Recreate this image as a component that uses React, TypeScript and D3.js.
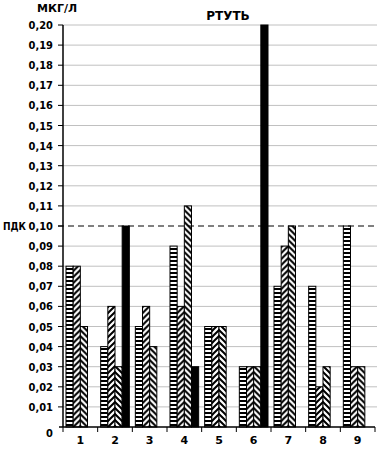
import React from "react";
import * as d3 from "d3";

const categories = ["1", "2", "3", "4", "5", "6", "7", "8", "9"];
const seriesStripes = [0.08, 0.04, 0.05, 0.09, 0.05, 0.03, 0.07, 0.07, 0.10];
const seriesFwd = [0.08, 0.06, 0.06, 0.06, 0.05, 0.03, 0.09, 0.02, 0.03];
const seriesBack = [0.05, 0.03, 0.04, 0.11, 0.05, 0.03, 0.10, 0.03, 0.03];
const seriesSolid = [0, 0.10, 0, 0.03, 0, 0.20, 0, 0, 0];
const yTicks = [0.01, 0.02, 0.03, 0.04, 0.05, 0.06, 0.07, 0.08, 0.09, 0.10, 0.11, 0.12, 0.13, 0.14, 0.15, 0.16, 0.17, 0.18, 0.19, 0.20];
const pdk = 0.10;

const W = 381, H = 452;
const left = 63, right = 375, top = 25, bottom = 427;
const font = "'DejaVu Sans Condensed', 'DejaVu Sans', sans-serif";
const fontWide = "'DejaVu Sans', sans-serif";

export default function App() {
  const x = d3.scaleBand<string>().domain(categories).range([left, right]).paddingInner(0).paddingOuter(0);
  const y = d3.scaleLinear().domain([0, 0.2]).range([bottom, top]);
  const bw = x.bandwidth();
  const pad = 3;
  const barW = (bw - 2 * pad) / 4;
  const series = [seriesStripes, seriesFwd, seriesBack, seriesSolid];
  const fmt = (v: number) => v.toFixed(2).replace(".", ",");
  const tp = { fontFamily: font, fontWeight: "bold" as const, fontSize: 11, fontStretch: "condensed" };
  const tw = { fontFamily: fontWide, fontWeight: "bold" as const, fontSize: 11 };

  return (
    <svg width={W} height={H} style={{ position: "absolute", left: 0, top: 0, background: "#fff" }}>
      <defs>
        <pattern id="stripes" patternUnits="userSpaceOnUse" width={4} height={4}>
          <rect width={4} height={4} fill="#fff" />
          <rect y={0} width={4} height={2} fill="#000" />
        </pattern>
        {categories.map((c, i) => {
          const bx = (x(c) as number) + pad + 2 * barW;
          return (
            <React.Fragment key={c}>
              <pattern id={`fwd${i}`} patternUnits="userSpaceOnUse" x={bx} y={0} width={6} height={6}>
                <rect width={6} height={6} fill="#fff" />
                <path d="M-1,1 L1,-1 M0,6 L6,0 M5,7 L7,5" stroke="#000" strokeWidth={2} />
              </pattern>
              <pattern id={`back${i}`} patternUnits="userSpaceOnUse" x={bx} y={0} width={6} height={6}>
                <rect width={6} height={6} fill="#fff" />
                <path d="M-1,5 L1,7 M0,0 L6,6 M5,-1 L7,1" stroke="#000" strokeWidth={2} />
              </pattern>
            </React.Fragment>
          );
        })}
      </defs>

      {yTicks.map((t) => (
        <line key={t} x1={left} x2={right + 2} y1={y(t)} y2={y(t)} stroke={t === pdk ? "none" : "#c0c0c0"} strokeWidth={1} />
      ))}

      {categories.map((c, i) =>
        series.map((s, si) => {
          const v = s[i];
          if (!v) return null;
          const bx = (x(c) as number) + pad + si * barW;
          const fill = si === 0 ? "url(#stripes)" : si === 1 ? `url(#fwd${i})` : si === 2 ? `url(#back${i})` : "#000";
          return (
            <rect key={`${c}-${si}`} x={bx} y={y(v)} width={barW} height={bottom - y(v)} fill={fill} stroke="#000" strokeWidth={1} />
          );
        })
      )}

      <line x1={left - 5} x2={right + 2} y1={y(pdk)} y2={y(pdk)} stroke="#000" strokeWidth={1} strokeDasharray="6,4" />

      <line x1={left} x2={left} y1={top} y2={bottom} stroke="#000" strokeWidth={1.5} />
      <line x1={left - 4} x2={right} y1={bottom} y2={bottom} stroke="#000" strokeWidth={1.5} />
      {yTicks.map((t) => (
        <line key={`t${t}`} x1={left - 5} x2={left} y1={y(t)} y2={y(t)} stroke="#000" />
      ))}
      {categories.concat(["end"]).map((c, i) => {
        const tx = left + i * bw;
        return <line key={`xt${i}`} x1={tx} x2={tx} y1={bottom} y2={bottom + 5} stroke="#000" />;
      })}

      {yTicks.map((t) => (
        <text key={`l${t}`} x={53} y={y(t) + 1} textAnchor="end" dominantBaseline="middle" {...tp}>
          {fmt(t)}
        </text>
      ))}
      <text x={53} y={bottom + 7} textAnchor="end" dominantBaseline="middle" {...tp}>0</text>
      <text x={3} y={y(pdk) + 1} dominantBaseline="middle" textLength={23} lengthAdjust="spacingAndGlyphs" {...tp}>ПДК</text>
      <text x={37} y={9} dominantBaseline="middle" {...tw}>МКГ/Л</text>
      <text x={228} y={16} textAnchor="middle" dominantBaseline="middle" {...tw} fontSize={12}>РТУТЬ</text>

      {categories.map((c) => (
        <text key={`x${c}`} x={(x(c) as number) + bw / 2} y={441} textAnchor="middle" dominantBaseline="middle" {...tw}>
          {c}
        </text>
      ))}
    </svg>
  );
}
